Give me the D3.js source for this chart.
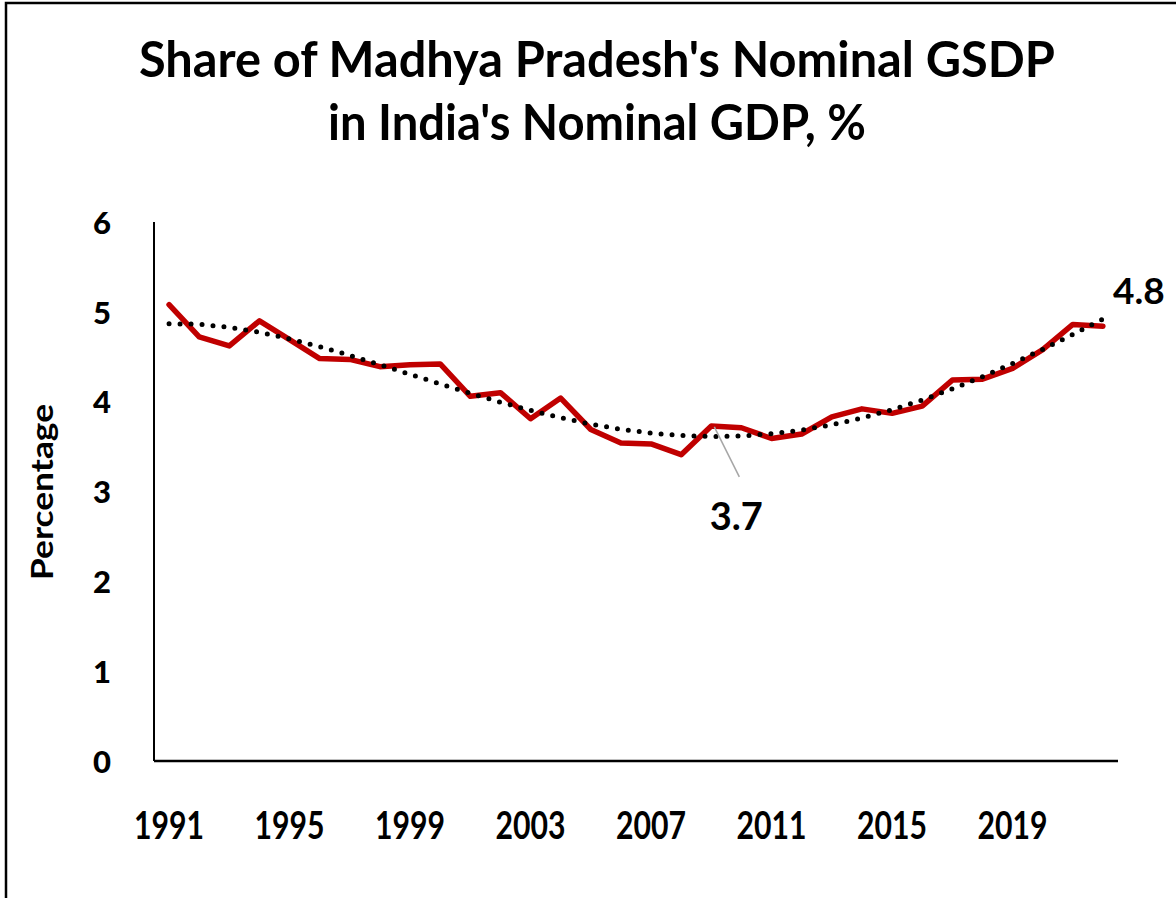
<!DOCTYPE html>
<html>
<head>
<meta charset="utf-8">
<script src="https://cdn.jsdelivr.net/npm/d3@7"></script>
<style>
  html, body { margin: 0; padding: 0; background: #fff; }
  svg { display: block; }
</style>
</head>
<body>
<svg id="chart" width="1176" height="898"></svg>
<script>
// ---- data ----
const years = d3.range(1991, 2023);
const share = [5.08, 4.72, 4.62, 4.90, 4.69, 4.48, 4.47, 4.39, 4.41, 4.42,
               4.06, 4.10, 3.81, 4.04, 3.69, 3.54, 3.53, 3.41, 3.73, 3.71,
               3.59, 3.64, 3.83, 3.92, 3.87, 3.95, 4.24, 4.25, 4.37, 4.58,
               4.86, 4.84];
const xTickLabels = ["1991", "1995", "1999", "2003", "2007", "2011", "2015", "2019"];
const yTicks = [0, 1, 2, 3, 4, 5, 6];
const titleLines = ["Share of Madhya Pradesh's Nominal GSDP", "in India's Nominal GDP, %"];
const yAxisTitle = "Percentage";
const annotations = [
  { year: 2009, text: "3.7" },
  { year: 2022, text: "4.8" }
];

// ---- polynomial trendline (least squares), as in the spreadsheet ----
function polyFit(xs, ys, order) {
  const n = order + 1;
  const A = Array.from({length: n}, () => new Array(n + 1).fill(0));
  for (let i = 0; i < xs.length; i++) {
    for (let r = 0; r < n; r++) {
      for (let c = 0; c < n; c++) A[r][c] += Math.pow(xs[i], r + c);
      A[r][n] += ys[i] * Math.pow(xs[i], r);
    }
  }
  for (let p = 0; p < n; p++) {
    let max = p;
    for (let r = p + 1; r < n; r++) if (Math.abs(A[r][p]) > Math.abs(A[max][p])) max = r;
    [A[p], A[max]] = [A[max], A[p]];
    for (let r = p + 1; r < n; r++) {
      const f = A[r][p] / A[p][p];
      for (let c = p; c <= n; c++) A[r][c] -= f * A[p][c];
    }
  }
  const coef = new Array(n).fill(0);
  for (let r = n - 1; r >= 0; r--) {
    let s = A[r][n];
    for (let c = r + 1; c < n; c++) s -= A[r][c] * coef[c];
    coef[r] = s / A[r][r];
  }
  return xv => coef.reduce((acc, k, i) => acc + k * Math.pow(xv, i), 0);
}
// x centred and scaled for numerical stability
const idx = years.map((d, i) => (i - 15.5) / 10);
const trendFn = polyFit(idx, share, 4);
const trend = idx.map(trendFn);

// ---- layout ----
const svg = d3.select("#chart");
const plotLeft = 154, plotRight = 1118, plotTop = 222, plotBottom = 761;

const x = d3.scaleBand().domain(years).range([plotLeft, plotRight]).paddingInner(0).paddingOuter(0);
const xc = d => x(d) + x.bandwidth() / 2;
const y = d3.scaleLinear().domain([0, 6]).range([plotBottom, plotTop]);

// outer border (right/bottom edges fall outside the picture)
svg.append("rect").attr("x", 6).attr("y", 3).attr("width", 1200).attr("height", 1000)
  .attr("fill", "none").attr("stroke", "#000").attr("stroke-width", 2.5);

const FONT = "Lato, 'Open Sans', 'Liberation Sans', sans-serif";

// title
const titleSpecs = [
  { y: 77, len: 916 },
  { y: 140, len: 538 }
];
titleLines.forEach((t, i) => {
  svg.append("text")
    .attr("x", 597).attr("y", titleSpecs[i].y)
    .attr("text-anchor", "middle")
    .attr("font-family", FONT).attr("font-weight", 700).attr("font-size", 49)
    .attr("textLength", titleSpecs[i].len).attr("lengthAdjust", "spacingAndGlyphs")
    .attr("fill", "#000")
    .text(t);
});

// axes
const yAxis = d3.axisLeft(y).tickValues(yTicks).tickSize(0).tickPadding(0).tickFormat(d3.format("d"));
const gy = svg.append("g").attr("transform", `translate(${plotLeft},0)`).call(yAxis);
gy.select(".domain").attr("stroke", "#000").attr("stroke-width", 2).attr("d", `M0,${plotTop}V${plotBottom}`);
gy.selectAll(".tick text")
  .attr("x", 102 - plotLeft).attr("dy", "0.36em").attr("text-anchor", "middle")
  .attr("font-family", FONT).attr("font-weight", 900).attr("font-size", 31).attr("fill", "#000");

const xAxis = d3.axisBottom(x).tickValues(xTickLabels.map(Number)).tickSize(0).tickPadding(0);
const gx = svg.append("g").attr("transform", `translate(0,${plotBottom})`).call(xAxis);
gx.select(".domain").attr("stroke", "#000").attr("stroke-width", 2.5).attr("d", `M${plotLeft},0H${plotRight}`);
gx.selectAll(".tick text")
  .attr("y", 78).attr("dy", 0)
  .attr("font-family", FONT).attr("font-weight", 700).attr("font-size", 38)
  .attr("textLength", 70).attr("lengthAdjust", "spacingAndGlyphs")
  .attr("fill", "#000");

// y axis title
svg.append("text")
  .attr("transform", "translate(53,492) rotate(-90)")
  .attr("text-anchor", "middle")
  .attr("font-family", FONT).attr("font-weight", 700).attr("font-size", 31)
  .attr("textLength", 176).attr("lengthAdjust", "spacingAndGlyphs")
  .attr("fill", "#000")
  .text(yAxisTitle);

// data line
const line = d3.line().x((d, i) => xc(years[i])).y(d => y(d));
svg.append("path").datum(share)
  .attr("d", line)
  .attr("fill", "none").attr("stroke", "#C00000").attr("stroke-width", 5.5)
  .attr("stroke-linejoin", "round").attr("stroke-linecap", "round");

// trendline (round dots)
svg.append("path").datum(trend)
  .attr("d", line)
  .attr("fill", "none").attr("stroke", "#000").attr("stroke-width", 5)
  .attr("stroke-linecap", "round").attr("stroke-dasharray", "0 11");

// annotations
const a1 = annotations[0];
const v1 = share[years.indexOf(a1.year)];
svg.append("line")
  .attr("x1", xc(a1.year) + 3).attr("y1", y(v1) + 1)
  .attr("x2", xc(a1.year) + 28).attr("y2", y(v1) + 51)
  .attr("stroke", "#A6A6A6").attr("stroke-width", 1.5);
svg.append("text")
  .attr("x", xc(a1.year) + 25).attr("y", y(v1) + 104)
  .attr("text-anchor", "middle")
  .attr("font-family", FONT).attr("font-weight", 700).attr("font-size", 38)
  .attr("fill", "#000")
  .text(a1.text);

const a2 = annotations[1];
const v2 = share[years.indexOf(a2.year)];
svg.append("text")
  .attr("x", xc(a2.year) + 36).attr("y", y(v2) - 22)
  .attr("text-anchor", "middle")
  .attr("font-family", FONT).attr("font-weight", 700).attr("font-size", 37)
  .attr("fill", "#000")
  .text(a2.text);
</script>
</body>
</html>
